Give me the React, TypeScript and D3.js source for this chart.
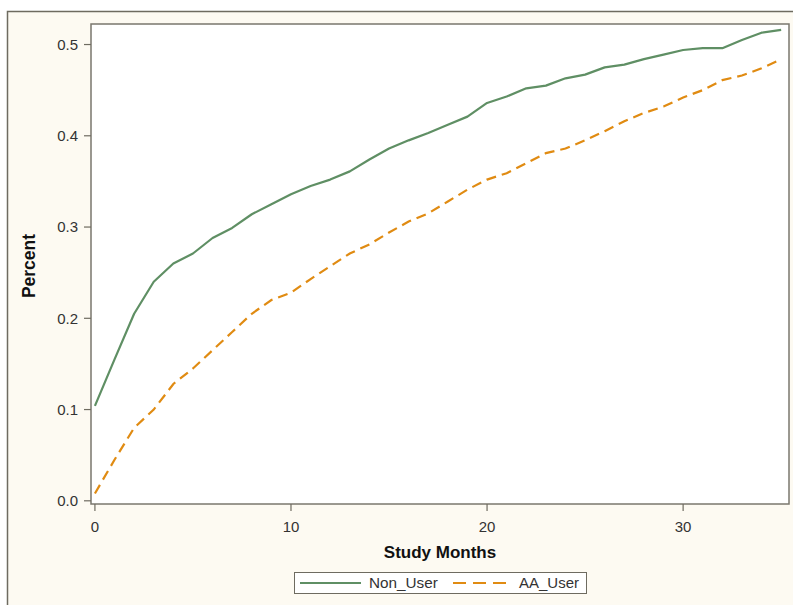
import React from 'react';
import * as d3 from 'd3';

// study months 0..35
const months = d3.range(0, 36);

const nonUser = [
  0.104, 0.155, 0.205, 0.240, 0.260, 0.271, 0.288, 0.299, 0.314, 0.325,
  0.336, 0.345, 0.352, 0.361, 0.374, 0.386, 0.395, 0.403, 0.412, 0.421,
  0.436, 0.443, 0.452, 0.455, 0.463, 0.467, 0.475, 0.478, 0.484, 0.489,
  0.494, 0.496, 0.496, 0.505, 0.513, 0.516,
];

const aaUser = [
  0.008, 0.045, 0.080, 0.100, 0.128, 0.145, 0.165, 0.185, 0.205, 0.220,
  0.228, 0.243, 0.257, 0.271, 0.281, 0.294, 0.306, 0.315, 0.328, 0.341,
  0.352, 0.359, 0.370, 0.381, 0.386, 0.395, 0.405, 0.416, 0.425, 0.432,
  0.442, 0.450, 0.461, 0.466, 0.474, 0.484,
];

const xTicks = [0, 10, 20, 30];
const yTicks = [0, 0.1, 0.2, 0.3, 0.4, 0.5];

const W = 793;
const H = 605;
const plot = { left: 91, top: 24, right: 789, bottom: 504 };

const GREEN = '#5f8f64';
const ORANGE = '#e08b12';
const FONT = '"Liberation Sans", Arial, sans-serif';

const App = () => {
  const x = d3.scaleLinear().domain([-0.2, 35.4]).range([plot.left, plot.right]);
  const y = d3.scaleLinear().domain([-0.0035, 0.5225]).range([plot.bottom, plot.top]);

  const line = d3.line<number>()
    .x((_, i) => x(months[i]))
    .y(d => y(d));

  return (
    <div style={{ position: 'absolute', left: 0, top: 0 }}>
      <svg width={W} height={H} style={{ display: 'block' }}>
        {/* outer frame */}
        <rect x={7.5} y={11.5} width={W + 10} height={H + 10} fill="#fdfaf2" stroke="#6e6b60" strokeWidth={1.5} />
        {/* plot area */}
        <rect x={plot.left} y={plot.top} width={plot.right - plot.left} height={plot.bottom - plot.top}
          fill="#ffffff" stroke="#7a776e" strokeWidth={1.5} />

        <path d={line(nonUser) || ''} fill="none" stroke={GREEN} strokeWidth={2.2} strokeLinejoin="round" />
        <path d={line(aaUser) || ''} fill="none" stroke={ORANGE} strokeWidth={2.2} strokeDasharray="10,6" />

        {/* y axis */}
        {yTicks.map(t => (
          <g key={t} transform={`translate(0,${y(t)})`}>
            <line x1={plot.left - 7} x2={plot.left} stroke="#6e6b60" strokeWidth={1.2} />
            <text x={plot.left - 13} dy="0.36em" textAnchor="end" fontFamily={FONT} fontSize={15} fill="#333">
              {t.toFixed(1)}
            </text>
          </g>
        ))}

        {/* x axis */}
        {xTicks.map(t => (
          <g key={t} transform={`translate(${x(t)},0)`}>
            <line y1={plot.bottom} y2={plot.bottom + 7} stroke="#6e6b60" strokeWidth={1.2} />
            <text y={532} textAnchor="middle" fontFamily={FONT} fontSize={15} fill="#333">{t}</text>
          </g>
        ))}

        <text x={(plot.left + plot.right) / 2} y={558} textAnchor="middle" fontFamily={FONT}
          fontSize={17} fontWeight="bold" fill="#111">Study Months</text>
        <text transform={`translate(35,266) rotate(-90)`} textAnchor="middle"
          fontFamily={FONT} fontSize={17.5} fontWeight="bold" fill="#111">Percent</text>

        {/* legend */}
        <rect x={294.5} y={572.5} width={292} height={21} fill="#ffffff" stroke="#6e6b60" strokeWidth={1} />
        <line x1={300} x2={361} y1={583} y2={583} stroke={GREEN} strokeWidth={2.2} />
        <text x={369} y={588} fontFamily={FONT} fontSize={15.3} fill="#333">Non_User</text>
        <line x1={453} x2={507} y1={583} y2={583} stroke={ORANGE} strokeWidth={2.2} strokeDasharray="13,7" />
        <text x={519} y={588} fontFamily={FONT} fontSize={15} fill="#333">AA_User</text>
      </svg>
    </div>
  );
};

export default App;
